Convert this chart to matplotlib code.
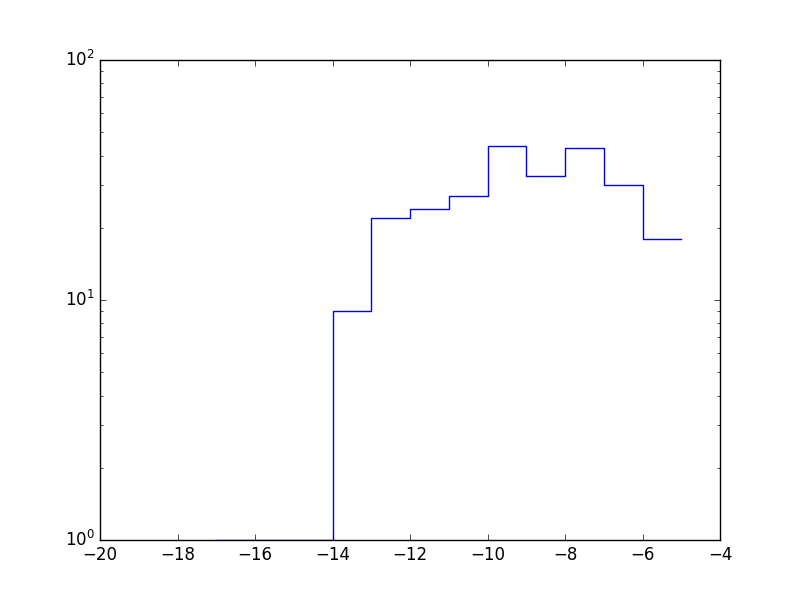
import matplotlib
matplotlib.use('Agg')
import matplotlib.pyplot as plt

plt.style.use('classic')

# Datos
x = [-17, -16, -15, -14, -13, -12, -11, -10, -9, -8, -7, -6, -5]
y = [1, 1, 1, 9, 22, 24, 27, 44, 33, 43, 30, 18, 18]

fig = plt.figure(figsize=(8, 6), dpi=100)
ax = fig.add_subplot(111)
ax.step(x, y, where='post', color='b')
ax.set_yscale('log')
ax.set_xlim(-20, -4)
ax.set_ylim(1, 100)

fig.savefig('out.png', dpi=100)
